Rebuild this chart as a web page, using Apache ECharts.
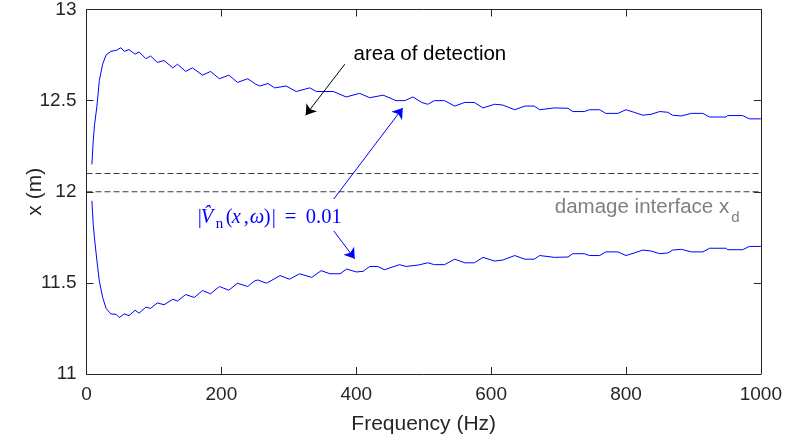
<!DOCTYPE html>
<html><head><meta charset="utf-8">
<script src="https://cdn.jsdelivr.net/npm/echarts@6/dist/echarts.min.js"></script>
<style>html,body{margin:0;padding:0;background:#fff}#c{width:785px;height:445px}</style>
</head><body><div id="c"></div>
<script>
// ---- data ----
const upperFreq = [8,10,12,15.5,19,24,29,36,44,51,56,63,72,78,88,95,105,115,128,135,147,157,172,184,197,211,224,239,251,257,269,279,296,311,331,341,366,385,405,420,440,459,472,484,497,506,516,531,546,561,575,588,605,617,635,650,664,672,694,714,721,738,746,761,770,788,800,812,825,837,850,862,869,882,897,914,924,948,951,973,983,1000];
const upperX = [12.15,12.28,12.37,12.47,12.61,12.70,12.75,12.77,12.776,12.79,12.77,12.78,12.755,12.767,12.73,12.745,12.71,12.72,12.68,12.70,12.66,12.68,12.64,12.66,12.62,12.64,12.60,12.62,12.59,12.58,12.594,12.57,12.58,12.55,12.57,12.55,12.55,12.52,12.54,12.516,12.53,12.50,12.50,12.52,12.49,12.48,12.50,12.50,12.47,12.49,12.49,12.46,12.48,12.476,12.45,12.47,12.47,12.45,12.46,12.458,12.44,12.44,12.45,12.45,12.43,12.43,12.45,12.436,12.42,12.425,12.44,12.436,12.42,12.416,12.43,12.43,12.41,12.41,12.418,12.418,12.40,12.40];
const lowerFreq = [8,10,12,15.5,19,24,29,36,44,48.6,56,63,72,78,88,95,105,115,128,135,147,160,172,184,197,211,224,239,249,254,267,287,301,316,334,348,361,376,386,400,410,420,432,442,464,474,492,506,516,531,546,561,575,588,605,617,635,650,664,672,694,714,721,738,746,761,770,788,800,812,825,837,850,862,869,882,897,914,924,948,951,973,983,1000];
const lowerX = [11.95,11.82,11.74,11.62,11.51,11.42,11.36,11.33,11.327,11.31,11.33,11.32,11.35,11.334,11.367,11.36,11.39,11.38,11.41,11.40,11.436,11.42,11.458,11.44,11.48,11.46,11.498,11.48,11.51,11.516,11.498,11.54,11.52,11.55,11.53,11.567,11.55,11.55,11.576,11.56,11.563,11.59,11.59,11.572,11.60,11.59,11.598,11.61,11.60,11.60,11.63,11.61,11.61,11.64,11.62,11.625,11.65,11.63,11.63,11.65,11.64,11.642,11.66,11.66,11.65,11.65,11.67,11.67,11.65,11.664,11.68,11.675,11.66,11.664,11.68,11.684,11.67,11.67,11.69,11.69,11.682,11.682,11.70,11.70];
const interfaceLevels = [12.1, 12];
const xTicks = {min: 0, max: 1000, step: 200};
const yTicks = {min: 11, max: 13, step: 0.5};
const xLabel = 'Frequency (Hz)';
const yLabel = 'x (m)';

// ---- annotation anchors (data coordinates) ----
const blackArrow = [[383, 12.70], [325, 12.42]];
const blueArrowUp = [[366.7, 11.96], [469, 12.46]];
const blueArrowDown = [[366.7, 11.785], [397.8, 11.632]];
const areaTextAt = [396, 12.756];
const formulaAt = [165, 11.856];
const damageAt = [953, 11.916];

const FONT = '"Liberation Sans", Arial, Helvetica, sans-serif';
const SERIF = '"Liberation Serif", "Times New Roman", serif';
const AX = '#262626';
const FS = 19;
const NFS = 21;
const AFS = 20.5;

const chart = echarts.init(document.getElementById('c'), null, {renderer: 'canvas'});

function zip(a, b) { return a.map((v, i) => [v, b[i]]); }

const axisCommon = {
  type: 'value', splitLine: {show: false},
  axisLine: {show: true, onZero: false, lineStyle: {color: AX, width: 1}},
  axisTick: {show: true, inside: true, length: 7, lineStyle: {color: AX}},
};

const option = {
  animation: false,
  backgroundColor: '#fff',
  textStyle: {fontFamily: FONT},
  grid: {left: 86.5, right: 23.5, top: 7.3, bottom: 71, containLabel: false},
  xAxis: [
    Object.assign({}, axisCommon, {position: 'bottom', min: xTicks.min, max: xTicks.max, interval: xTicks.step,
      axisLabel: {color: AX, fontSize: FS, fontFamily: FONT, margin: 11, formatter: v => String(v)},
      name: xLabel, nameLocation: 'middle', nameGap: 40, nameMoveOverlap: false,
      nameTextStyle: {color: AX, fontSize: NFS, fontFamily: FONT}}),
    Object.assign({}, axisCommon, {position: 'top', min: xTicks.min, max: xTicks.max, interval: xTicks.step,
      axisLabel: {show: false}})
  ],
  yAxis: [
    Object.assign({}, axisCommon, {position: 'left', min: yTicks.min, max: yTicks.max, interval: yTicks.step,
      axisLabel: {color: AX, fontSize: FS, fontFamily: FONT, margin: 10, formatter: v => String(v)},
      name: yLabel, nameLocation: 'middle', nameGap: 41, nameMoveOverlap: false,
      nameTextStyle: {color: AX, fontSize: NFS, fontFamily: FONT}}),
    Object.assign({}, axisCommon, {position: 'right', min: yTicks.min, max: yTicks.max, interval: yTicks.step,
      axisLabel: {show: false}})
  ],
  series: [
    ...interfaceLevels.map(l => ({
      type: 'line', data: [[xTicks.min, l], [xTicks.max, l]], symbol: 'none', silent: true,
      lineStyle: {color: '#3a3a3a', width: 1, type: [6, 3]}
    })),
    {type: 'line', data: zip(upperFreq, upperX), symbol: 'none', lineStyle: {color: '#0000ff', width: 1}},
    {type: 'line', data: zip(lowerFreq, lowerX), symbol: 'none', lineStyle: {color: '#0000ff', width: 1}},
    {type: 'line', data: [], symbol: 'none',
      markLine: {silent: true, symbolSize: 10, label: {show: false}, animation: false,
        lineStyle: {type: 'solid', width: 1},
        data: [
          [{coord: blackArrow[0], symbol: 'none', lineStyle: {color: '#000'}}, {coord: blackArrow[1], symbol: 'arrow'}],
          [{coord: blueArrowUp[0], symbol: 'none', lineStyle: {color: '#0000ff'}}, {coord: blueArrowUp[1], symbol: 'arrow'}],
          [{coord: blueArrowDown[0], symbol: 'none', lineStyle: {color: '#0000ff'}}, {coord: blueArrowDown[1], symbol: 'arrow'}]
        ]}}
  ]
};
chart.setOption(option);

// ---- text annotations ----
const px = c => chart.convertToPixel({xAxisIndex: 0, yAxisIndex: 0}, c);

const g = [];
const a = px(areaTextAt);
g.push({type: 'text', x: a[0], y: a[1], style: {text: 'area of detection', fill: '#000', font: AFS + 'px ' + FONT, verticalAlign: 'middle', align: 'left'}});

// formula |V̂_n(x, ω)| = 0.01 — glyph offsets (px) from the start of the expression
const f0 = px(formulaAt);
const fs = 20.5;
const pieces = [
  {t: '|', dx: 0},
  {t: 'V\u0302', dx: 3, it: true},
  {t: 'n', dx: 18, sub: true},
  {t: '(', dx: 28},
  {t: 'x', dx: 34, it: true},
  {t: ',', dx: 46},
  {t: 'ω', dx: 52, it: true},
  {t: ')', dx: 66},
  {t: '|', dx: 74},
  {t: '=', dx: 87},
  {t: '0.01', dx: 108}
];
pieces.forEach(p => {
  const size = p.sub ? 15 : fs;
  const font = (p.it ? 'italic ' : '') + size + 'px ' + SERIF;
  g.push({type: 'text', x: f0[0] + p.dx, y: f0[1] + (p.sub ? 6 : 0),
    style: {text: p.t, font: font, fill: '#0000ff', verticalAlign: 'middle', align: 'left'}});
});

// damage interface x_d
const d0 = px(damageAt);
g.push({type: 'text', x: d0[0], y: d0[1],
  style: {text: 'damage interface x', font: AFS + 'px ' + FONT, fill: '#808080', align: 'right', verticalAlign: 'middle'}});
g.push({type: 'text', x: d0[0] + 2, y: d0[1] + 11,
  style: {text: 'd', font: '15px ' + FONT, fill: '#808080', align: 'left', verticalAlign: 'middle'}});

chart.setOption({graphic: g});
</script>
</body></html>
